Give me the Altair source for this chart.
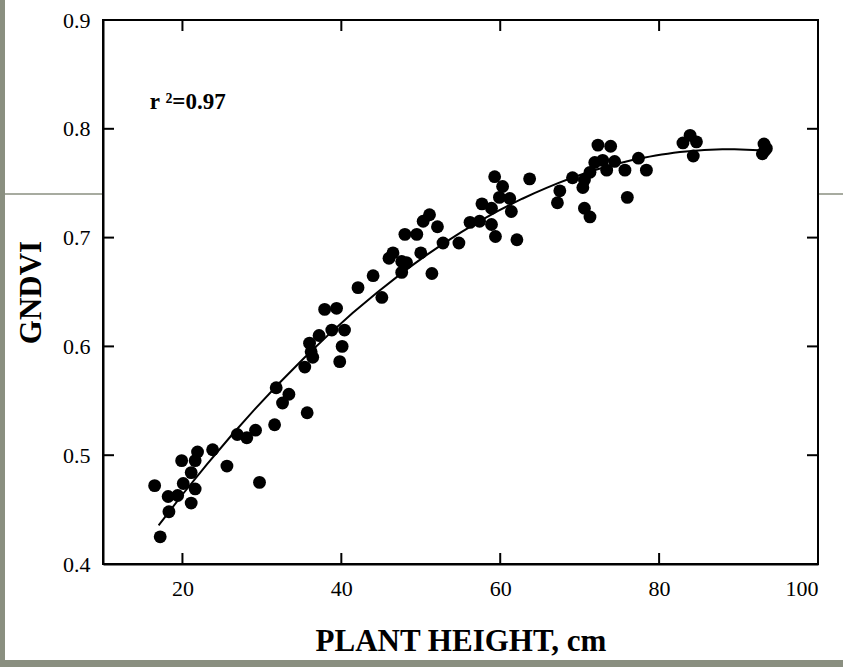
import altair as alt
import pandas as pd

plant_height = [16.5, 17.2, 18.2, 18.3, 19.4, 20.1, 19.9, 21.1, 21.6, 21.1, 21.6, 21.9,
                23.8, 25.6, 26.9, 28.1, 29.2, 29.7, 31.6, 32.6, 31.8, 33.4, 35.7, 35.4,
                36.4, 36.2, 36.0, 37.2, 38.8, 40.4, 40.1, 39.8, 37.9, 39.4, 42.1, 44.0,
                45.1, 46.0, 46.5, 47.6, 47.6, 48.2, 51.4, 50.0, 48.0, 49.5, 50.3, 51.1,
                52.1, 52.8, 54.8, 56.2, 57.4, 57.7, 58.9, 58.9, 59.4, 59.3, 60.3, 59.9,
                61.2, 61.4, 62.1, 63.7, 67.5, 67.2, 69.1, 70.4, 70.6, 70.6, 71.3, 71.3,
                71.9, 72.3, 73.9, 72.9, 73.4, 74.4, 75.7, 76.0, 77.4, 78.4, 83.0, 83.9,
                84.7, 84.3, 93.2, 93.5, 93.0, 93.3]
gndvi = [0.472, 0.425, 0.462, 0.448, 0.463, 0.474, 0.495, 0.484, 0.469, 0.456, 0.495, 0.503,
         0.505, 0.490, 0.519, 0.516, 0.523, 0.475, 0.528, 0.548, 0.562, 0.556, 0.539, 0.581,
         0.590, 0.595, 0.603, 0.610, 0.615, 0.615, 0.600, 0.586, 0.634, 0.635, 0.654, 0.665,
         0.645, 0.681, 0.686, 0.678, 0.668, 0.677, 0.667, 0.686, 0.703, 0.703, 0.715, 0.721,
         0.710, 0.695, 0.695, 0.714, 0.715, 0.731, 0.727, 0.712, 0.701, 0.756, 0.747, 0.737,
         0.736, 0.724, 0.698, 0.754, 0.743, 0.732, 0.755, 0.746, 0.727, 0.753, 0.719, 0.760,
         0.769, 0.785, 0.784, 0.771, 0.762, 0.770, 0.762, 0.737, 0.773, 0.762, 0.787, 0.794,
         0.788, 0.775, 0.786, 0.782, 0.777, 0.780]

x_ticks = [20, 40, 60, 80]
y_ticks = [0.5, 0.6, 0.7, 0.8]
r2_label = ["r \u00b2=0.97"]
r2_x = [15.9]
r2_y = [0.825]

FONT = "Liberation Serif, Times New Roman, serif"
W, H = 715, 544
GREY = "#8a8f80"

df = pd.DataFrame({"h": plant_height, "g": gndvi})
xt = pd.DataFrame({"t": x_ticks})
yt = pd.DataFrame({"t": y_ticks})
one = pd.DataFrame({"a": [0]})
ann = pd.DataFrame({"label": r2_label, "x": r2_x, "y": r2_y})

xs = alt.Scale(domain=[10, 100], nice=False, zero=False)
ys = alt.Scale(domain=[0.4, 0.9], nice=False, zero=False)

# slide decoration: white panel and grey guide lines
panel = alt.Chart(one).mark_rect(fill="white").encode(
    x=alt.value(-98), x2=alt.value(740), y=alt.value(-20), y2=alt.value(640))
gl_left = alt.Chart(one).mark_rule(color=GREY, strokeWidth=1.5).encode(
    x=alt.value(-98), x2=alt.value(0), y=alt.value(174))
gl_right = alt.Chart(one).mark_rule(color=GREY, strokeWidth=1.5).encode(
    x=alt.value(W), x2=alt.value(740), y=alt.value(174))
frame = alt.Chart(one).mark_rect(fill=None, fillOpacity=0, stroke="black", strokeWidth=2).encode(
    x=alt.value(0), x2=alt.value(W), y=alt.value(0), y2=alt.value(H))

points = alt.Chart(df).mark_circle(size=165, color="black", opacity=1).encode(
    x=alt.X("h:Q", scale=xs, title="PLANT HEIGHT, cm",
            axis=alt.Axis(values=[20, 40, 60, 80, 100], format="d", zindex=2,
                          labelFont=FONT, titleFont=FONT)),
    y=alt.Y("g:Q", scale=ys, title="GNDVI",
            axis=alt.Axis(values=[0.4, 0.5, 0.6, 0.7, 0.8, 0.9], format=".1f", zindex=2,
                          labelFont=FONT, titleFont=FONT)),
)

fit = alt.Chart(df).transform_regression(
    "h", "g", method="poly", order=2, extent=[17, 93.3]
).mark_line(color="black", strokeWidth=2).encode(
    x=alt.X("h:Q", scale=xs), y=alt.Y("g:Q", scale=ys))

tick_len = 11
xb = alt.Chart(xt).mark_rule(color="black", strokeWidth=2).encode(
    x=alt.X("t:Q", scale=xs), y=alt.value(H), y2=alt.value(H - tick_len))
xtop = alt.Chart(xt).mark_rule(color="black", strokeWidth=2).encode(
    x=alt.X("t:Q", scale=xs), y=alt.value(0), y2=alt.value(tick_len))
yl = alt.Chart(yt).mark_rule(color="black", strokeWidth=2).encode(
    y=alt.Y("t:Q", scale=ys), x=alt.value(0), x2=alt.value(tick_len))
yr = alt.Chart(yt).mark_rule(color="black", strokeWidth=2).encode(
    y=alt.Y("t:Q", scale=ys), x=alt.value(W), x2=alt.value(W - tick_len))

text = alt.Chart(ann).mark_text(font=FONT, fontSize=23, fontWeight="bold",
                                align="left", baseline="middle", color="black").encode(
    x=alt.X("x:Q", scale=xs), y=alt.Y("y:Q", scale=ys), text="label:N")

chart = alt.layer(panel, gl_left, gl_right, fit, points, xb, xtop, yl, yr, text, frame).properties(
    width=W, height=H,
    autosize=alt.AutoSizeParams(type="none"),
    padding={"left": 103, "top": 20, "right": 25, "bottom": 103},
    background=GREY,
).configure_view(
    stroke=None, fill="white"
).configure_axis(
    grid=False, ticks=False, domain=True, domainColor="black", domainWidth=2,
    labelFont=FONT, labelFontSize=22, labelColor="black",
    titleFont=FONT, titleFontSize=31, titleFontWeight="bold", titleColor="black",
).configure_axisX(
    labelPadding=14, titleY=86, titleBaseline="alphabetic",
).configure_axisY(
    labelPadding=13, titleX=-63, titleY=H / 2, titleBaseline="alphabetic",
)

chart.save("out.html", embed_options={"renderer": "svg", "actions": False})
